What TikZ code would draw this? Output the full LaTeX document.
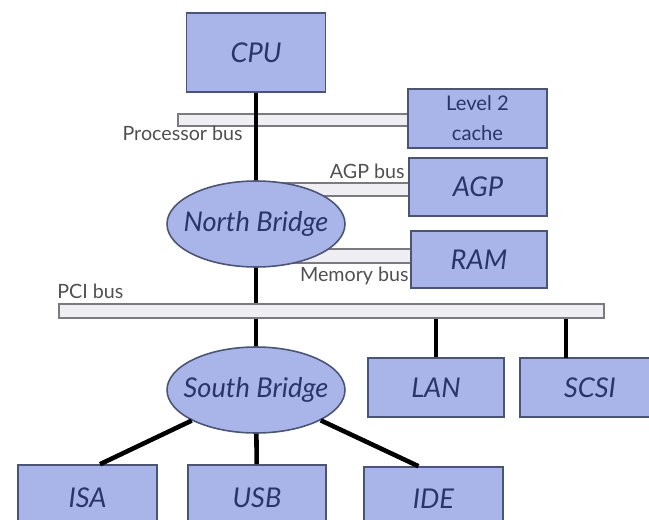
\documentclass[tikz,border=0pt]{standalone}
\usepackage{fontspec}
\setmainfont{Lato}
\usepackage{xcolor}
\usepackage{tikz}
\usetikzlibrary{shapes,positioning,calc}

\definecolor{boxblue}{HTML}{A9B5E8}
\definecolor{boxline}{HTML}{4A5474}
\definecolor{inkblue}{HTML}{2A3468}
\definecolor{busfill}{HTML}{EEEEF3}
\definecolor{busline}{HTML}{7A7A80}
\definecolor{labelgray}{HTML}{505050}

\tikzset{
    devbox/.style={draw=boxline, fill=boxblue, line width=0.9pt, rectangle, inner sep=0pt,
        text=inkblue, font=\fontsize{15.5}{17}\selectfont\itshape},
    bridge/.style={draw=boxline, fill=boxblue, line width=0.9pt, ellipse, inner sep=0pt},
    bridgetext/.style={text=inkblue, font=\fontsize{15.5}{17}\selectfont\itshape, inner sep=0pt},
    busbar/.style={draw=busline, fill=busfill, line width=0.9pt, rectangle, inner sep=0pt},
    buslabel/.style={text=labelgray, font=\fontsize{11.2}{13}\selectfont, inner sep=0pt},
    wire/.style={line width=2.6pt, black}
}

\begin{document}
\begin{tikzpicture}[x=0.02cm, y=-0.02cm]
    \useasboundingbox (0,0) rectangle (649,520);

    % buses
    \node[busbar, minimum width=4.6cm, minimum height=0.24cm] (procbus) at (293,120) {};
    \node[busbar, minimum width=3.02cm, minimum height=0.26cm] (agpbus) at (333.5,189.5) {};
    \node[busbar, minimum width=3.06cm, minimum height=0.28cm] (membus) at (334.5,256) {};
    \node[busbar, minimum width=10.9cm, minimum height=0.28cm] (pcibus) at (331.5,311) {};

    % devices
    \node[devbox, minimum width=2.78cm, minimum height=1.58cm] (cpu) at (256,52.5) {CPU};
    \node[devbox, minimum width=2.78cm, minimum height=1.18cm, align=center,
        font=\fontsize{11.5}{17}\selectfont] (cache) at (477.5,118.5) {Level 2\\cache};
    \node[devbox, minimum width=2.76cm, minimum height=1.16cm] (agp) at (478,187) {AGP};
    \node[devbox, minimum width=2.72cm, minimum height=1.14cm] (ram) at (479,259.5) {RAM};
    \node[devbox, minimum width=2.72cm, minimum height=1.18cm] (lan) at (436,387.5) {LAN};
    \node[devbox, minimum width=2.8cm, minimum height=1.18cm] (scsi) at (590,387.5) {SCSI};
    \node[devbox, minimum width=2.78cm, minimum height=1.3cm] (isa) at (87.5,497.5) {ISA};
    \node[devbox, minimum width=2.76cm, minimum height=1.3cm] (usb) at (257,497.5) {USB};
    \node[devbox, minimum width=2.78cm, minimum height=1.26cm] (ide) at (433.5,498.5) {IDE};

    % bridges
    \node[bridge, minimum width=3.56cm, minimum height=1.72cm] (nb) at (256,224) {};
    \node[bridgetext] (nbtext) at (nb) {North Bridge};
    \node[bridge, minimum width=3.56cm, minimum height=1.72cm] (sb) at (256,390) {};
    \node[bridgetext] (sbtext) at (sb) {South Bridge};

    % bus labels
    \node[buslabel, anchor=east] (proclabel) at (243,133) {Processor bus};
    \node[buslabel, anchor=east] (agplabel) at (405,171) {AGP bus};
    \node[buslabel, anchor=east] (memlabel) at (409,276) {Memory bus};
    \node[buslabel, anchor=west] (pcilabel) at (57,291) {PCI bus};

    % wires
    \coordinate (scsitap) at (566,358);
    \draw[wire] (cpu) -- (nb);
    \draw[wire] (nb) -- (nb |- pcibus.north);
    \draw[wire] (sb |- pcibus.south) -- (sb);
    \draw[wire] (lan |- pcibus.south) -- (lan);
    \draw[wire] (scsitap |- pcibus.south) -- (scsitap);
    \draw[wire] (sb) -- ([xshift=0.25cm]isa.north);
    \draw[wire] (sb) -- (usb);
    \draw[wire] (sb) -- ([xshift=-0.3cm]ide.north);
\end{tikzpicture}
\end{document}
